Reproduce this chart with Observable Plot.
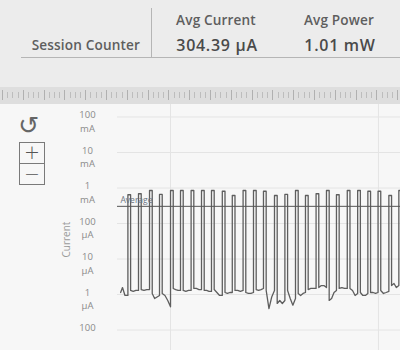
<!DOCTYPE html>
<html>
<head>
<meta charset="utf-8">
<script src="https://cdn.jsdelivr.net/npm/d3@7"></script>
<script src="https://cdn.jsdelivr.net/npm/@observablehq/plot@0.6"></script>
<style>
  html, body { margin: 0; padding: 0; }
  body { width: 400px; height: 350px; overflow: hidden; background: #f7f7f7; font-family: "Open Sans", sans-serif; position: relative; }
  #header { position: absolute; left: 0; top: 0; width: 400px; height: 87px; background: #ececec; }
  .hl { position: absolute; height: 20px; line-height: 20px; white-space: nowrap; text-align: center; width: 140px; }
  .lab { font-size: 13.6px; color: #5e5e5e; font-weight: 600; letter-spacing: 0.15px; }
  .val { font-size: 16px; color: #4a4a4a; font-weight: 600; letter-spacing: 0.7px; }
  #vsep { position: absolute; left: 151px; top: 8px; width: 1px; height: 49px; background: #b5b5b5; }
  #hsep { position: absolute; left: 21px; top: 57px; width: 379px; height: 1px; background: #b5b5b5; }
  #ruler { position: absolute; left: 0; top: 87px; width: 400px; height: 17px; background-color: #dedede;
    background-image:
      repeating-linear-gradient(to right, #b0b0b0 0 1px, transparent 1px 20.8px),
      repeating-linear-gradient(to right, #bdbdbd 0 1px, transparent 1px 5.2px);
    background-size: 100% 10px, 100% 6px;
    background-position: 2px 3px, 2px 5px;
    background-repeat: repeat-x; }
  #chart { position: absolute; left: 0; top: 104px; width: 400px; height: 246px; }
  #refresh { position: absolute; left: 18px; top: 112px; font-family: "DejaVu Sans"; font-size: 25px; color: #666; line-height: 28px; }
  .btn { position: absolute; left: 19px; width: 26px; height: 22px; border: 1px solid #7a7a7a; box-sizing: border-box; text-align: center; line-height: 19px; font-size: 19px; color: #555; font-family: "DejaVu Sans"; font-weight: 300; }
</style>
</head>
<body>
<div id="header">
  <div class="hl lab" style="left:0px; width:140px; text-align:right; top:35px;">Session Counter</div>
  <div class="hl lab" style="left:146px; top:10px;">Avg Current</div>
  <div class="hl val" style="left:147px; top:35px;">304.39 µA</div>
  <div class="hl lab" style="left:269px; top:10px;">Avg Power</div>
  <div class="hl val" style="left:270px; top:35px;">1.01 mW</div>
  <div id="vsep"></div>
  <div id="hsep"></div>
</div>
<div id="ruler"></div>
<div id="chart"></div>
<div id="refresh">↺</div>
<div class="btn" style="top:142px;">+</div>
<div class="btn" style="top:163px;">−</div>
<script>
// ---- data (time in ms, current in µA) ----
const avgCurrent = 304.39;           // µA
const decades = [1e5, 1e4, 1e3, 1e2, 10, 1, 0.1]; // µA  (100 mA ... 100 nA)
const tickNumber = ["100", "10", "1", "100", "10", "1", "100"];
const tickUnit = ["mA", "mA", "mA", "µA", "µA", "µA", ""];
const timeGrid = [1000, 2000];        // ms
const pulseWidth = 13;                // ms
const pulseStart = [795, 846, 899, 947, 1000, 1048, 1099, 1149, 1197, 1249, 1297, 1349, 1399, 1447,
                    1500, 1550, 1601, 1649, 1700, 1750, 1798, 1850, 1900, 1949, 1998, 2050, 2098];
const pulseTop = [645, 690, 850, 660, 850, 850, 850, 850, 850, 810, 615, 850, 850, 810,
                  615, 660, 850, 615, 690, 850, 645, 850, 850, 810, 810, 615, 850];
const leadTime = [760, 769, 781];
const leadValue = [1.14, 1.57, 0.94];
// baseline between pulses: after fall, 1/3, 2/3, before next rise
const gapLows = [
  [1.30, 1.22, 1.30, 1.30], [1.38, 1.30, 1.38, 1.38], [1.07, 0.77, 0.85, 0.94], [1.07, 0.94, 0.68, 0.45],
  [1.48, 1.38, 1.30, 1.30], [1.30, 1.22, 1.30, 1.30], [1.48, 1.48, 1.38, 1.38], [1.30, 1.30, 1.22, 1.22],
  [1.38, 1.14, 0.94, 0.94], [1.14, 1.07, 1.14, 1.14], [1.30, 1.30, 1.22, 1.30], [1.14, 1.07, 1.07, 1.14],
  [1.38, 1.30, 1.38, 1.48], [1.30, 0.40, 0.85, 1.30], [0.56, 0.68, 0.56, 0.68], [1.30, 0.77, 0.50, 0.77],
  [1.07, 0.94, 1.07, 1.14], [1.38, 1.48, 1.48, 1.48], [1.57, 1.79, 1.79, 1.57], [0.68, 0.77, 1.14, 1.30],
  [1.48, 1.57, 1.48, 1.48], [1.48, 1.30, 0.94, 1.07], [1.14, 0.94, 0.94, 1.07], [1.14, 1.14, 1.07, 1.14],
  [1.30, 1.07, 1.14, 1.22], [1.79, 2.04, 1.57, 1.79]
];

// ---- build the trace from the arrays ----
const points = leadTime.map((t, i) => ({t, v: leadValue[i]}));
pulseStart.forEach((s, i) => {
  const prev = points[points.length - 1].v;
  points.push({t: s, v: prev});
  points.push({t: s, v: pulseTop[i]});
  points.push({t: s + pulseWidth, v: pulseTop[i]});
  if (i < gapLows.length) {
    const end = pulseStart[i + 1];
    const span = end - (s + pulseWidth);
    gapLows[i].forEach((v, k) => points.push({t: s + pulseWidth + span * k / 3, v}));
  } else {
    points.push({t: s + pulseWidth, v: 1.3});
  }
});

const ticks = decades.map((d, i) => ({d, num: tickNumber[i], unit: tickUnit[i]}));

const chart = Plot.plot({
  width: 400,
  height: 246,
  marginTop: 0, marginBottom: 0, marginLeft: 117, marginRight: 0,
  style: {background: "transparent", fontFamily: "Open Sans", overflow: "visible"},
  x: {domain: [745, 2106], axis: null},
  y: {type: "log", domain: [0.02649, 224900], axis: null},
  marks: [
    Plot.ruleY(decades, {stroke: "#e4e4e4", strokeWidth: 1}),
    Plot.ruleX(timeGrid, {stroke: "#e4e4e4", strokeWidth: 1}),
    Plot.line(points, {x: "t", y: "v", stroke: "#5e5e5e", strokeWidth: 1.3, curve: "linear", clip: true}),
    Plot.ruleY([avgCurrent], {stroke: "#555", strokeWidth: 1}),
    Plot.text([avgCurrent], {y: d => d, text: () => "Average", frameAnchor: "left", dx: 3, dy: -6,
      textAnchor: "start", fontSize: 8.5, fill: "#6b7480"}),
    Plot.text(ticks, {y: "d", text: "num", frameAnchor: "left", dx: -30, textAnchor: "middle",
      dy: -2, fontSize: 9.5, fill: "#8a8a8a"}),
    Plot.text(ticks, {y: "d", text: "unit", frameAnchor: "left", dx: -30, textAnchor: "middle",
      dy: 11.5, fontSize: 9.5, fill: "#8a8a8a"}),
    Plot.text(["Current"], {y: () => 11, text: d => d, frameAnchor: "left", dx: -51, rotate: -90,
      fontSize: 10, fill: "#9a9a9a"})
  ]
});
document.getElementById("chart").appendChild(chart);
</script>
</body>
</html>
